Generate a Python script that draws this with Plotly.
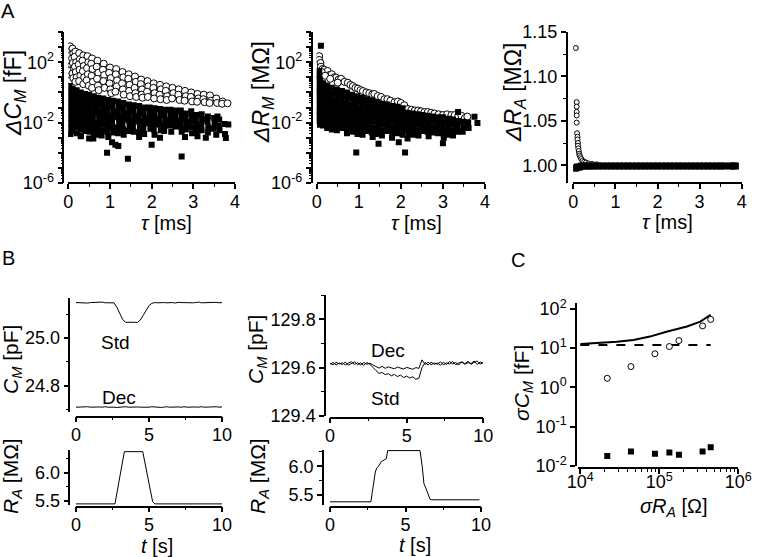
import plotly.graph_objects as go

# ---------------- DATA ----------------
# Panel A1: Delta C_M [fF] vs tau [ms]; values given as log10 exponents
a1_open_tau = [
    0.04, 0.06, 0.03, 0.05, 0.07, 0.04, 0.06, 0.05,
    0.10, 0.12, 0.09, 0.11, 0.13, 0.10, 0.12,
    0.17, 0.15, 0.19, 0.16, 0.18, 0.20, 0.17,
    0.26, 0.28, 0.25, 0.27, 0.29, 0.26,
    0.36, 0.34, 0.37, 0.35, 0.38, 0.36,
    0.46, 0.48, 0.45, 0.47, 0.44, 0.49,
    0.57, 0.55, 0.58, 0.56, 0.59, 0.57,
    0.70, 0.68, 0.72, 0.69, 0.71, 0.73,
    0.85, 0.83, 0.86, 0.84, 0.87,
    1.00, 0.98, 1.02, 0.99, 1.01, 1.03,
    1.15, 1.14, 1.17, 1.16, 1.13,
    1.30, 1.32, 1.29, 1.31, 1.33,
    1.45, 1.44, 1.47, 1.46, 1.48,
    1.60, 1.62, 1.59, 1.61, 1.63,
    1.75, 1.74, 1.77, 1.76, 1.78,
    1.90, 1.92, 1.89, 1.91,
    2.05, 2.04, 2.07, 2.06,
    2.20, 2.22, 2.19, 2.21,
    2.35, 2.34, 2.37, 2.36,
    2.50, 2.52, 2.49,
    2.65, 2.64, 2.67,
    2.80, 2.82, 2.79,
    2.95, 2.94, 2.97,
    3.10, 3.12, 3.09,
    3.25, 3.24, 3.27,
    3.40, 3.42, 3.39,
    3.55, 3.57,
    3.70, 3.69,
    3.82,
]
a1_open_exp = [
    3.05, 2.75, 2.45, 2.10, 1.80, 1.45, 1.10, 0.80,
    2.90, 2.60, 2.25, 1.95, 1.60, 1.25, 0.95,
    2.70, 2.35, 2.00, 1.70, 1.35, 1.00, 0.70,
    2.60, 2.20, 1.85, 1.50, 1.10, 0.75,
    2.45, 2.10, 1.75, 1.40, 1.00, 0.55,
    2.40, 2.00, 1.60, 1.20, 0.80, 0.45,
    2.25, 1.90, 1.55, 1.10, 0.70, 0.30,
    2.10, 1.70, 1.30, 0.90, 0.45, 0.15,
    1.90, 1.50, 1.15, 0.75, 0.30,
    1.65, 1.30, 0.95, 0.60, 0.20, -0.05,
    1.55, 1.20, 0.80, 0.40, 0.05,
    1.35, 1.00, 0.60, 0.20, -0.15,
    1.20, 0.90, 0.50, 0.10, -0.25,
    1.05, 0.70, 0.30, -0.05, -0.30,
    0.85, 0.55, 0.20, -0.15, -0.35,
    0.75, 0.40, 0.05, -0.30,
    0.60, 0.30, -0.05, -0.40,
    0.50, 0.20, -0.15, -0.45,
    0.40, 0.10, -0.25, -0.50,
    0.30, -0.05, -0.40,
    0.20, -0.15, -0.50,
    0.10, -0.25, -0.55,
    0.00, -0.30, -0.60,
    -0.10, -0.40, -0.62,
    -0.15, -0.45, -0.65,
    -0.20, -0.55, -0.70,
    -0.40, -0.70,
    -0.60, -0.75,
    -0.72,
]
a1_fill_tau = [
    0.03, 0.04, 0.03, 0.05, 0.03, 0.04, 0.03, 0.05, 0.04, 0.03,
    0.10, 0.11, 0.09, 0.10, 0.12, 0.10, 0.09, 0.11, 0.10,
    0.20, 0.19, 0.21, 0.20, 0.22, 0.19, 0.20, 0.21, 0.20,
    0.30, 0.31, 0.29, 0.30, 0.32, 0.30, 0.29, 0.31, 0.30,
    0.40, 0.41, 0.39, 0.40, 0.42, 0.40, 0.39, 0.41,
    0.50, 0.51, 0.49, 0.50, 0.52, 0.50, 0.49, 0.51, 0.50,
    0.61, 0.60, 0.62, 0.61, 0.59, 0.61, 0.60, 0.62,
    0.72, 0.73, 0.71, 0.72, 0.74, 0.72, 0.71, 0.73,
    0.84, 0.83, 0.85, 0.84, 0.86, 0.84, 0.83,
    0.95, 0.96, 0.94, 0.95, 0.97, 0.95, 0.94, 0.96,
    1.07, 1.06, 1.08, 1.07, 1.05, 1.07, 1.08,
    1.20, 1.21, 1.19, 1.20, 1.22, 1.20, 1.19,
    1.32, 1.31, 1.33, 1.32, 1.30, 1.32, 1.33,
    1.45, 1.46, 1.44, 1.45, 1.47, 1.45,
    1.57, 1.56, 1.58, 1.57, 1.55, 1.57,
    1.70, 1.71, 1.69, 1.70, 1.72, 1.70,
    1.82, 1.81, 1.83, 1.82, 1.80, 1.82,
    1.95, 1.96, 1.94, 1.95, 1.97,
    2.07, 2.06, 2.08, 2.07, 2.05, 2.07,
    2.20, 2.21, 2.19, 2.20, 2.22,
    2.32, 2.31, 2.33, 2.32, 2.30,
    2.45, 2.46, 2.44, 2.45, 2.47,
    2.57, 2.56, 2.58, 2.57,
    2.70, 2.71, 2.69, 2.70, 2.72,
    2.82, 2.81, 2.83, 2.82,
    2.95, 2.96, 2.94, 2.95, 2.97,
    3.07, 3.06, 3.08, 3.07,
    3.20, 3.21, 3.19, 3.20,
    3.35, 3.34, 3.36, 3.35,
    3.50, 3.51, 3.49,
    3.62, 3.61, 3.63,
    3.75, 3.76,
    0.05, 0.30, 0.60, 0.80, 0.93, 1.05, 1.13, 1.20, 1.43, 1.70,
    2.00, 2.20, 2.72, 2.80, 3.10, 3.30, 3.55, 3.78, 3.84, 3.58,
]
a1_fill_exp = [
    0.40, 0.05, -0.30, -0.65, -1.00, -1.35, -1.70, -2.05, -2.40, -2.75,
    0.25, -0.10, -0.45, -0.80, -1.15, -1.50, -1.85, -2.20, -2.55,
    0.15, -0.20, -0.55, -0.90, -1.25, -1.60, -1.95, -2.30, -2.70,
    0.00, -0.35, -0.70, -1.05, -1.40, -1.75, -2.10, -2.45, -2.85,
    -0.10, -0.45, -0.80, -1.15, -1.50, -1.85, -2.20, -2.55,
    -0.15, -0.50, -0.85, -1.20, -1.55, -1.90, -2.25, -2.60, -3.05,
    -0.25, -0.60, -0.95, -1.30, -1.65, -2.00, -2.35, -2.70,
    -0.35, -0.70, -1.05, -1.40, -1.75, -2.10, -2.45, -2.80,
    -0.40, -0.75, -1.10, -1.45, -1.80, -2.15, -2.50,
    -0.50, -0.85, -1.20, -1.55, -1.90, -2.25, -2.60, -2.95,
    -0.55, -0.90, -1.25, -1.60, -1.95, -2.30, -2.65,
    -0.60, -0.95, -1.30, -1.65, -2.00, -2.35, -2.70,
    -0.70, -1.05, -1.40, -1.75, -2.10, -2.45, -2.80,
    -0.80, -1.15, -1.50, -1.85, -2.20, -2.55,
    -0.85, -1.20, -1.55, -1.90, -2.25, -2.60,
    -0.90, -1.25, -1.60, -1.95, -2.30, -2.65,
    -1.00, -1.35, -1.70, -2.05, -2.40, -2.75,
    -1.00, -1.35, -1.70, -2.05, -2.40,
    -1.05, -1.40, -1.75, -2.10, -2.45, -2.80,
    -1.10, -1.45, -1.80, -2.15, -2.50,
    -1.15, -1.50, -1.85, -2.20, -2.55,
    -1.15, -1.50, -1.85, -2.20, -2.60,
    -1.20, -1.55, -1.90, -2.25,
    -1.20, -1.55, -1.90, -2.25, -2.60,
    -1.40, -1.75, -2.10, -2.45,
    -1.25, -1.60, -1.95, -2.30, -2.70,
    -1.50, -1.85, -2.20, -2.55,
    -1.45, -1.80, -2.15, -2.50,
    -1.60, -1.95, -2.30, -2.65,
    -1.70, -2.05, -2.40,
    -1.80, -2.20, -2.50,
    -2.10, -2.75,
    -2.75, -2.90, -3.05, -2.85, -4.00, -3.30, -3.47, -3.55, -4.40, -2.95,
    -3.47, -3.00, -4.24, -2.95, -2.90, -3.00, -2.80, -3.02, -2.13, -1.60,
]

# Panel A2: Delta R_M [MOhm] vs tau [ms]; log10 exponents
a2_open_tau = [
    0.06, 0.06, 0.09, 0.10, 0.14, 0.18, 0.22, 0.26, 0.30, 0.36,
    0.42, 0.46, 0.52, 0.58, 0.66, 0.74, 0.80, 0.86, 0.92, 0.98,
    1.04, 1.10, 1.18, 1.25, 1.32, 1.37, 1.45, 1.53, 1.61, 1.68,
    1.75, 1.85, 1.93, 2.00, 2.08, 2.17, 2.25, 2.33, 2.41, 2.48,
    2.56, 2.64, 2.72, 2.80, 2.90, 3.00, 3.10, 3.20, 3.28, 3.36,
    3.44, 3.52, 3.58, 0.04, 0.12, 0.20, 0.32, 0.50,
]
a2_open_exp = [
    2.40, 2.15, 1.95, 1.70, 1.55, 1.50, 1.30, 1.42, 1.15, 1.20,
    1.00, 0.98, 0.85, 0.90, 0.70, 0.64, 0.50, 0.42, 0.30, 0.25,
    0.15, 0.09, 0.00, -0.05, -0.13, -0.10, -0.24, -0.30, -0.45, -0.45,
    -0.55, -0.65, -0.60, -0.70, -0.85, -1.10, -1.15, -1.20, -1.20, -1.25,
    -1.30, -1.30, -1.35, -1.40, -1.45, -1.50, -1.45, -1.50, -1.50, -1.60,
    -1.55, -1.70, -1.60, 1.25, 1.35, 1.10, 0.90, 0.65,
]
a2_fill_tau = [
    0.03, 0.04, 0.03, 0.04, 0.03, 0.04, 0.03, 0.04, 0.03,
    0.08, 0.09, 0.07, 0.08, 0.09, 0.08, 0.07, 0.09, 0.08, 0.08,
    0.15, 0.16, 0.14, 0.15, 0.16, 0.15, 0.14, 0.16, 0.15,
    0.25, 0.26, 0.24, 0.25, 0.27, 0.25, 0.24, 0.26, 0.25,
    0.36, 0.37, 0.35, 0.36, 0.38, 0.36, 0.35, 0.37, 0.36,
    0.48, 0.49, 0.47, 0.48, 0.50, 0.48, 0.47, 0.49, 0.48,
    0.60, 0.61, 0.59, 0.60, 0.62, 0.60, 0.59, 0.61,
    0.72, 0.73, 0.71, 0.72, 0.74, 0.72, 0.71, 0.73, 0.72,
    0.84, 0.85, 0.83, 0.84, 0.86, 0.84, 0.83, 0.85,
    0.96, 0.97, 0.95, 0.96, 0.98, 0.96, 0.95, 0.97,
    1.08, 1.09, 1.07, 1.08, 1.10, 1.08, 1.07, 1.09,
    1.20, 1.21, 1.19, 1.20, 1.22, 1.20, 1.19,
    1.32, 1.33, 1.31, 1.32, 1.34, 1.32, 1.31, 1.33,
    1.44, 1.45, 1.43, 1.44, 1.46, 1.44, 1.43,
    1.56, 1.57, 1.55, 1.56, 1.58, 1.56, 1.55,
    1.68, 1.69, 1.67, 1.68, 1.70, 1.68,
    1.80, 1.81, 1.79, 1.80, 1.82, 1.80, 1.79,
    1.92, 1.93, 1.91, 1.92, 1.94, 1.92,
    2.04, 2.05, 2.03, 2.04, 2.06, 2.04,
    2.16, 2.17, 2.15, 2.16, 2.18, 2.16,
    2.28, 2.29, 2.27, 2.28, 2.30,
    2.40, 2.41, 2.39, 2.40, 2.42,
    2.52, 2.53, 2.51, 2.52,
    2.64, 2.65, 2.63, 2.64, 2.66,
    2.76, 2.77, 2.75, 2.76,
    2.88, 2.89, 2.87, 2.88,
    3.00, 3.01, 2.99, 3.00, 3.02,
    3.12, 3.13, 3.11, 3.12,
    3.24, 3.25, 3.23, 3.24,
    3.36, 3.37, 3.35, 3.36,
    3.48, 3.49, 3.47,
    3.60, 3.61,
    3.75, 3.82, 0.10, 0.06, 0.06, 0.94, 1.47, 1.95, 2.10, 3.00,
]
a2_fill_exp = [
    0.90, 0.55, 0.20, -0.15, -0.50, -0.85, -1.20, -1.55, -1.90,
    0.80, 0.45, 0.10, -0.25, -0.60, -0.95, -1.30, -1.65, -2.00, -2.15,
    0.60, 0.25, -0.10, -0.45, -0.80, -1.15, -1.50, -1.85, -2.20,
    0.45, 0.10, -0.25, -0.60, -0.95, -1.30, -1.65, -2.00, -2.35,
    0.30, -0.05, -0.40, -0.75, -1.10, -1.45, -1.80, -2.15, -2.45,
    0.20, -0.15, -0.50, -0.85, -1.20, -1.55, -1.90, -2.25, -2.50,
    0.10, -0.25, -0.60, -0.95, -1.30, -1.65, -2.00, -2.35,
    0.00, -0.35, -0.70, -1.05, -1.40, -1.75, -2.10, -2.45, -2.70,
    -0.15, -0.50, -0.85, -1.20, -1.55, -1.90, -2.25, -2.60,
    -0.25, -0.60, -0.95, -1.30, -1.65, -2.00, -2.35, -2.75,
    -0.35, -0.70, -1.05, -1.40, -1.75, -2.10, -2.45, -2.80,
    -0.45, -0.80, -1.15, -1.50, -1.85, -2.20, -2.55,
    -0.55, -0.90, -1.25, -1.60, -1.95, -2.30, -2.65, -2.95,
    -0.65, -1.00, -1.35, -1.70, -2.05, -2.40, -2.75,
    -0.75, -1.10, -1.45, -1.80, -2.15, -2.50, -2.85,
    -0.80, -1.15, -1.50, -1.85, -2.20, -2.55,
    -0.90, -1.25, -1.60, -1.95, -2.30, -2.65, -3.00,
    -0.95, -1.30, -1.65, -2.00, -2.35, -2.70,
    -1.05, -1.40, -1.75, -2.10, -2.45, -2.80,
    -1.35, -1.70, -2.05, -2.40, -2.75, -3.05,
    -1.40, -1.75, -2.10, -2.45, -2.80,
    -1.45, -1.80, -2.15, -2.50, -2.85,
    -1.50, -1.85, -2.20, -2.55,
    -1.55, -1.90, -2.25, -2.60, -2.90,
    -1.60, -1.95, -2.30, -2.65,
    -1.65, -2.00, -2.35, -2.70,
    -1.65, -2.00, -2.35, -2.70, -3.00,
    -1.75, -2.10, -2.45, -2.80,
    -1.80, -2.15, -2.50, -2.85,
    -1.30, -1.90, -2.25, -2.60,
    -1.95, -2.30, -2.60,
    -2.00, -2.35,
    -1.62, -2.02, 3.09, 1.42, 1.10, -3.98, -3.40, -3.30, -3.98, -3.36,
]

# Panel A3: Delta R_A [MOhm] vs tau [ms]
a3_open_tau = [0.06, 0.08, 0.08, 0.08, 0.08, 0.08, 0.09, 0.10, 0.10, 0.11, 0.11,
               0.12, 0.13, 0.14, 0.15, 0.17, 0.19, 0.22, 0.26, 0.30, 0.36, 0.45, 0.55]
a3_open_dra = [1.132, 1.071, 1.066, 1.060, 1.056, 1.048, 1.036, 1.032, 1.029, 1.025, 1.022,
               1.019, 1.016, 1.013, 1.011, 1.009, 1.007, 1.005, 1.004, 1.003, 1.002, 1.0015, 1.001]
a3_fill_tau = [0.03, 0.06, 0.10, 0.15, 0.20, 0.27, 0.35, 0.42, 0.50, 0.60, 0.70, 0.80,
               0.90, 1.00, 1.10, 1.20, 1.30, 1.40, 1.50, 1.60, 1.70, 1.80, 1.90, 2.00,
               2.10, 2.20, 2.30, 2.40, 2.50, 2.60, 2.70, 2.80, 2.90, 3.00, 3.10, 3.20,
               3.30, 3.40, 3.50, 3.58, 3.73, 3.80, 3.85]
a3_fill_dra = [0.997, 0.997, 0.998, 0.998, 0.999, 0.999, 0.999, 0.999, 0.999, 0.999, 0.999, 0.999,
               0.999, 0.999, 0.999, 0.999, 0.999, 0.999, 0.999, 0.999, 0.999, 0.999, 0.999, 0.999,
               0.999, 0.999, 0.999, 0.999, 0.999, 0.999, 0.999, 0.999, 0.999, 0.999, 0.999, 0.999,
               0.999, 0.999, 0.999, 0.999, 0.999, 0.999, 0.999]

# Panel B: time traces (t in s)
b_t = [0.0, 0.2, 0.4, 0.6, 0.8, 1.0, 1.2, 1.4, 1.6, 1.8,
       2.0, 2.2, 2.4, 2.6, 2.8, 3.0, 3.2, 3.4, 3.6, 3.8,
       4.0, 4.2, 4.4, 4.6, 4.8, 5.0, 5.2, 5.4, 5.6, 5.8,
       6.0, 6.2, 6.4, 6.6, 6.8, 7.0, 7.2, 7.4, 7.6, 7.8,
       8.0, 8.2, 8.4, 8.6, 8.8, 9.0, 9.2, 9.4, 9.6, 9.8, 10.0]
b1_cm_std = [25.150, 25.149, 25.151, 25.150, 25.148, 25.150, 25.151, 25.149, 25.150, 25.152,
             25.149, 25.150, 25.151, 25.149, 25.130, 25.102, 25.078, 25.067, 25.068, 25.066,
             25.067, 25.066, 25.076, 25.096, 25.118, 25.137, 25.147, 25.150, 25.149, 25.151,
             25.150, 25.149, 25.151, 25.150, 25.148, 25.151, 25.150, 25.149, 25.151, 25.150,
             25.149, 25.150, 25.152, 25.149, 25.150, 25.151, 25.149, 25.150, 25.151, 25.149,
             25.150]
b1_cm_dec = [24.709, 24.710, 24.708, 24.710, 24.711, 24.709, 24.710, 24.708, 24.710, 24.709,
             24.711, 24.709, 24.710, 24.709, 24.708, 24.710, 24.709, 24.711, 24.709, 24.710,
             24.708, 24.710, 24.709, 24.708, 24.710, 24.709, 24.711, 24.709, 24.710, 24.708,
             24.709, 24.711, 24.709, 24.710, 24.708, 24.710, 24.709, 24.711, 24.709, 24.710,
             24.708, 24.710, 24.709, 24.711, 24.709, 24.710, 24.708, 24.709, 24.711, 24.709,
             24.710]
b1_ra_t = [0.0, 2.67, 3.31, 4.57, 5.25, 5.40, 10.0]
b1_ra = [5.44, 5.44, 6.38, 6.38, 5.48, 5.44, 5.44]

b2_cm_std = [129.614, 129.621, 129.611, 129.619, 129.613, 129.623, 129.610, 129.618, 129.624, 129.612,
             129.620, 129.609, 129.621, 129.614, 129.603, 129.588, 129.576, 129.580, 129.571, 129.575,
             129.566, 129.572, 129.563, 129.569, 129.559, 129.565, 129.557, 129.562, 129.552, 129.556,
             129.600, 129.621, 129.611, 129.622, 129.614, 129.619, 129.610, 129.622, 129.613, 129.625,
             129.615, 129.621, 129.611, 129.624, 129.616, 129.626, 129.613, 129.622, 129.627, 129.615,
             129.620]
b2_cm_dec = [129.618, 129.612, 129.622, 129.615, 129.620, 129.611, 129.619, 129.624, 129.613, 129.620,
             129.611, 129.621, 129.614, 129.618, 129.611, 129.604, 129.598, 129.605, 129.597, 129.603,
             129.599, 129.595, 129.602, 129.597, 129.594, 129.601, 129.596, 129.593, 129.600, 129.597,
             129.632, 129.613, 129.622, 129.612, 129.619, 129.614, 129.624, 129.611, 129.620, 129.615,
             129.625, 129.612, 129.619, 129.623, 129.614, 129.621, 129.617, 129.627, 129.613, 129.623,
             129.618]
b2_ra_t = [0.0, 2.71, 2.80, 2.89, 3.00, 3.10, 3.22, 3.40, 3.56, 3.73, 3.82,
           5.96, 6.11, 6.22, 6.44, 6.62, 6.70, 9.90]
b2_ra = [5.385, 5.385, 5.55, 5.70, 5.90, 5.97, 6.00, 6.08, 6.10, 6.13, 6.27,
         6.27, 5.99, 5.70, 5.56, 5.43, 5.42, 5.42]

# Panel C: sigma C_M [fF] vs sigma R_A [Ohm]
c_line_ra = [1.0e4, 1.78e4, 2.9e4, 4.7e4, 7.6e4, 1.23e5, 2.24e5, 3.3e5, 4.47e5]
c_line_cm = [12.8, 13.4, 14.5, 16.2, 19.7, 26.3, 35.5, 47.5, 71.0]
c_dash_ra = [1.0e4, 4.47e5]
c_dash_cm = [12.0, 12.0]
c_std_ra = [2.19e4, 4.37e4, 8.8e4, 1.34e5, 1.77e5, 3.53e5, 4.47e5]
c_std_cm = [1.71, 3.4, 7.2, 11.0, 15.6, 36.9, 54.0]
c_dec_ra = [2.19e4, 4.37e4, 8.8e4, 1.34e5, 1.77e5, 3.53e5, 4.47e5]
c_dec_cm = [0.0181, 0.0234, 0.0204, 0.0220, 0.0193, 0.0234, 0.0300]

# ---------------- FIGURE ----------------
W, H = 759, 557
def fx(p):
    return p / W
def fy(p):
    return 1 - p / H

FONT = "Arial, Liberation Sans, sans-serif"
TF = dict(family=FONT, size=18, color="black")

fig = go.Figure()

def axes(n, xdom, ydom, ypos, xpos, xcfg, ycfg):
    xn = "xaxis" if n == 1 else "xaxis%d" % n
    yn = "yaxis" if n == 1 else "yaxis%d" % n
    common = dict(showline=True, linecolor="black", linewidth=1.5, ticks="outside",
                  tickcolor="black", tickwidth=1.5, ticklen=5, showgrid=False,
                  zeroline=False, tickfont=TF, automargin=False, anchor="free")
    xd = dict(common); xd.update(domain=[fx(xdom[0]), fx(xdom[1])], position=fy(xpos), ticklabelstandoff=-3); xd.update(xcfg)
    yd = dict(common); yd.update(domain=[fy(ydom[1]), fy(ydom[0])], position=fx(ypos)); yd.update(ycfg)
    fig.update_layout({xn: xd, yn: yd})

def minor(vals, ln=3):
    return dict(ticks="outside", ticklen=ln, tickwidth=1, tickcolor="black", tickmode="array", tickvals=vals)

logA_major = [10.0 ** e for e in range(-6, 5)]
logA_text = ["10<sup>-6</sup>" if e == -6 else "10<sup>-2</sup>" if e == -2 else "10<sup>2</sup>" if e == 2 else "" for e in range(-6, 5)]
logA_minor = [k * 10.0 ** e for e in range(-6, 4) for k in range(2, 10)]
tau_x = dict(range=[0, 4], tickmode="array", tickvals=[0, 1, 2, 3, 4], ticktext=["0", "1", "2", "3", "4"],
             minor=minor([0.5, 1.5, 2.5, 3.5]))
logA_y = dict(type="log", range=[-6, 4], tickmode="array", tickvals=logA_major, ticktext=logA_text,
              minor=minor(logA_minor, 2))

axes(1, (68.3, 235), (32, 183), 63.3, 183.3, tau_x, logA_y)
axes(2, (316.7, 485), (32, 183), 311.7, 183.3, tau_x, logA_y)
axes(3, (573.3, 741.7), (32, 183), 566.7, 183.3, tau_x,
     dict(range=[0.98, 1.15], tickmode="array", tickvals=[1.00, 1.05, 1.10, 1.15],
          ticktext=["1.00", "1.05", "1.10", "1.15"], minor=minor([0.975, 1.025, 1.075, 1.125])))

t_x = dict(range=[0, 10], tickmode="array", tickvals=[0, 5, 10], ticktext=["0", "5", "10"], minor=minor([2.5, 7.5]))
axes(4, (76, 222), (298.3, 411.7), 69.3, 416.7, t_x,
     dict(range=[24.69, 25.168], tickmode="array", tickvals=[24.8, 25.0], ticktext=["24.8", "25.0"],
          minor=minor([24.7, 24.9, 25.1])))
axes(5, (76, 222), (450, 505), 69.3, 506.7, t_x,
     dict(range=[5.42, 6.41], tickmode="array", tickvals=[5.5, 6.0], ticktext=["5.5", "6.0"],
          minor=minor([5.75, 6.25])))
axes(6, (330, 483.3), (295, 416), 325, 417.7, t_x,
     dict(range=[129.4, 129.9], tickmode="array", tickvals=[129.4, 129.6, 129.8],
          ticktext=["129.4", "129.6", "129.8"], minor=minor([129.5, 129.7, 129.9])))
axes(7, (330, 481), (450, 505), 323, 506.7, t_x,
     dict(range=[5.33, 6.28], tickmode="array", tickvals=[5.5, 6.0], ticktext=["5.5", "6.0"],
          minor=minor([5.75, 6.25])))
axes(8, (578, 738.3), (303, 466), 576, 468,
     dict(type="log", range=[3.97, 6.0], tickmode="array", tickvals=[1e4, 1e5, 1e6],
          ticktext=["10<sup>4</sup>", "10<sup>5</sup>", "10<sup>6</sup>"], ticklabelstandoff=-7,
          minor=minor([k * 10.0 ** e for e in (4, 5) for k in range(2, 10)], 3)),
     dict(type="log", range=[-2, 2.15], tickmode="array", tickvals=[1e-2, 1e-1, 1, 10, 100],
          ticktext=["10<sup>-2</sup>", "10<sup>-1</sup>", "10<sup>0</sup>", "10<sup>1</sup>", "10<sup>2</sup>"]))

OPEN = lambda s: dict(symbol="circle", size=s, color="white", line=dict(color="black", width=1))
FILL = lambda s: dict(symbol="square", size=s, color="black", line=dict(width=0))

def sc(x, y, ax, marker=None, line=None, mode="markers"):
    kw = dict(x=x, y=y, mode=mode, xaxis="x" if ax == 1 else "x%d" % ax,
              yaxis="y" if ax == 1 else "y%d" % ax, showlegend=False, hoverinfo="skip")
    if marker is not None:
        kw["marker"] = marker
    if line is not None:
        kw["line"] = line
    fig.add_trace(go.Scatter(**kw))

sc(a1_open_tau, [10 ** e for e in a1_open_exp], 1, OPEN(7))
sc(a1_fill_tau, [10 ** e for e in a1_fill_exp], 1, FILL(6))
sc(a2_open_tau, [10 ** e for e in a2_open_exp], 2, OPEN(7))
sc(a2_fill_tau, [10 ** e for e in a2_fill_exp], 2, FILL(6))
sc(a3_open_tau, a3_open_dra, 3, OPEN(5))
sc(a3_fill_tau, a3_fill_dra, 3, FILL(7))

LN = dict(color="black", width=1)
sc(b_t, b1_cm_std, 4, line=LN, mode="lines")
sc(b_t, b1_cm_dec, 4, line=LN, mode="lines")
sc(b1_ra_t, b1_ra, 5, line=LN, mode="lines")
sc(b_t, b2_cm_std, 6, line=LN, mode="lines")
sc(b_t, b2_cm_dec, 6, line=LN, mode="lines")
sc(b2_ra_t, b2_ra, 7, line=LN, mode="lines")

sc(c_line_ra, c_line_cm, 8, line=dict(color="black", width=2), mode="lines")
sc(c_dash_ra, c_dash_cm, 8, line=dict(color="black", width=2, dash="dash"), mode="lines")
sc(c_std_ra, c_std_cm, 8, OPEN(6))
sc(c_dec_ra, c_dec_cm, 8, FILL(6))

ann = []
def text(t, x, y, size=18, angle=0):
    ann.append(dict(text=t, x=fx(x), y=fy(y), xref="paper", yref="paper", showarrow=False,
                    xanchor="center", yanchor="middle", textangle=angle,
                    font=dict(family=FONT, size=size, color="black")))

YA, YT, XT = 23, 21, 20
text("A", 8, 11, 20)
text("B", 8, 258, 20)
text("C", 518, 260, 20)
text("<i>ΔC</i><sub><i>M</i></sub> [fF]", 14, 93, YA, -90)
text("<i>ΔR</i><sub><i>M</i></sub> [MΩ]", 262, 92, YA, -90)
text("<i>ΔR</i><sub><i>A</i></sub> [MΩ]", 514, 93, YA, -90)
text("<i>τ</i> [ms]", 166, 223, XT)
text("<i>τ</i> [ms]", 416, 223, XT)
text("<i>τ</i> [ms]", 667, 222, XT)
text("<i>C</i><sub><i>M</i></sub> [pF]", 12, 360, YT, -90)
text("<i>R</i><sub><i>A</i></sub> [MΩ]", 12, 476, YT, -90)
text("<i>C</i><sub><i>M</i></sub> [pF]", 257, 350, YT, -90)
text("<i>R</i><sub><i>A</i></sub> [MΩ]", 259, 476, YT, -90)
text("<i>t</i> [s]", 157, 546, XT)
text("<i>t</i> [s]", 415, 545, XT)
text("Std", 116, 342, 19)
text("Dec", 119, 397, 19)
text("Dec", 388, 350, 19)
text("Std", 385, 398, 19)
text("<i>σC</i><sub><i>M</i></sub> [fF]", 523, 383, YT, -90)
text("<i>σR</i><sub><i>A</i></sub> [Ω]", 673, 507, XT)

fig.update_layout(width=W, height=H, margin=dict(l=0, r=0, t=0, b=0),
                  paper_bgcolor="white", plot_bgcolor="white", showlegend=False,
                  annotations=ann, font=dict(family=FONT, size=18, color="black"))

fig.write_html("out.html", config={"displayModeBar": False},
               post_script="document.body.style.margin='0px';document.body.style.padding='0px';")
